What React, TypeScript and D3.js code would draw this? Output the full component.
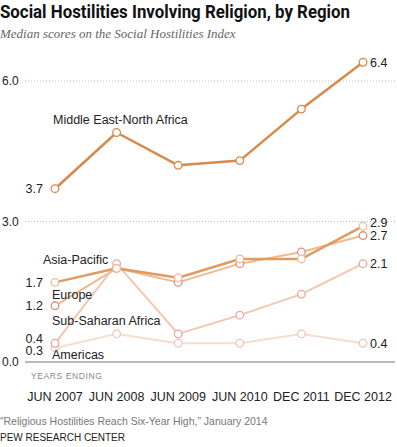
import { useEffect, useRef } from "react";
import * as d3 from "d3";

const periods = ["JUN 2007", "JUN 2008", "JUN 2009", "JUN 2010", "DEC 2011", "DEC 2012"];

// median SHI scores per region
const menaScores = [3.7, 4.9, 4.2, 4.3, 5.4, 6.4];
const asiaScores = [1.7, 2.0, 1.8, 2.2, 2.2, 2.9];
const europeScores = [1.2, 2.0, 1.7, 2.1, 2.35, 2.7];
const ssaScores = [0.4, 2.1, 0.6, 1.0, 1.45, 2.1];
const americasScores = [0.3, 0.6, 0.4, 0.4, 0.6, 0.4];

const yTicks = [0, 3, 6];

const series = [
  { name: "Americas", values: americasScores, color: "#f6ddd2", dot: "#efc6bc", width: 2, label: [52, 354], first: "0.3", last: "0.4", firstDy: 3, lastDy: 0 },
  { name: "Sub-Saharan Africa", values: ssaScores, color: "#f3c7ae", dot: "#e9aaa0", width: 2, label: [52, 320], first: "0.4", last: "2.1", firstDy: -5, lastDy: 0 },
  { name: "Europe", values: europeScores, color: "#ecbb92", dot: "#d99080", width: 2, label: [52, 294], first: "1.2", last: "2.7", firstDy: 0, lastDy: 0 },
  { name: "Asia-Pacific", values: asiaScores, color: "#e19a60", dot: "#edbd9a", width: 2.5, label: [43, 259], first: "1.7", last: "2.9", firstDy: 0, lastDy: -4 },
  { name: "Middle East-North Africa", values: menaScores, color: "#d8894c", dot: "#d8894c", width: 2.5, label: [53, 119], first: "3.7", last: "6.4", firstDy: 0, lastDy: 0 },
];

const SANS = "'Liberation Sans', Arial, sans-serif";

export default function App() {
  const svgRef = useRef<SVGSVGElement>(null);

  useEffect(() => {
    if (!svgRef.current) return;
    const W = 397;
    const H = 447;
    const svg = d3.select(svgRef.current);
    svg.selectAll("*").remove();
    svg.attr("viewBox", `0 0 ${W} ${H}`);

    const x = d3.scalePoint<string>().domain(periods).range([55, 363]);
    const y = d3.scaleLinear().domain([0, 6]).range([362, 81]);

    // ── Title block ───────────────────────────────────────────────
    svg.append("text")
      .attr("x", 0).attr("y", 18)
      .attr("font-family", "Roboto, " + SANS)
      .attr("font-weight", 700)
      .attr("font-size", 18)
      .attr("textLength", 350)
      .attr("lengthAdjust", "spacingAndGlyphs")
      .attr("fill", "#111")
      .text("Social Hostilities Involving Religion, by Region");

    svg.append("text")
      .attr("x", 0).attr("y", 38)
      .attr("font-family", "'Liberation Serif', 'DejaVu Serif', serif")
      .attr("font-style", "italic")
      .attr("font-size", 13)
      .attr("fill", "#666")
      .text("Median scores on the Social Hostilities Index");

    // ── Grid ───────────────────────────────────────────────────────
    yTicks.forEach((t) => {
      svg.append("line")
        .attr("x1", 25).attr("x2", 395)
        .attr("y1", y(t)).attr("y2", y(t))
        .attr("stroke", t === 0 ? "#777" : "#aaa")
        .attr("stroke-width", t === 0 ? 1.2 : 0.8)
        .attr("stroke-dasharray", t === 0 ? null : "1 2");
      svg.append("text")
        .attr("x", 2).attr("y", y(t) + 4)
        .attr("font-family", SANS).attr("font-size", 12)
        .attr("fill", "#222")
        .text(d3.format(".1f")(t));
    });

    // ── Lines + dots ───────────────────────────────────────────────
    const line = d3.line<number>()
      .x((_, i) => x(periods[i])!)
      .y((d) => y(d));

    series.forEach((s) => {
      svg.append("path")
        .datum(s.values)
        .attr("fill", "none")
        .attr("stroke", s.color)
        .attr("stroke-width", s.width)
        .attr("stroke-linejoin", "round")
        .attr("d", line);
    });

    series.forEach((s) => {
      s.values.forEach((v, i) => {
        svg.append("circle")
          .attr("cx", x(periods[i])!)
          .attr("cy", y(v))
          .attr("r", 3.8)
          .attr("fill", "#fff")
          .attr("stroke", s.dot)
          .attr("stroke-width", 1.3);
      });
    });

    // ── Series & value labels ──────────────────────────────────────
    series.forEach((s) => {
      svg.append("text")
        .attr("x", s.label[0]).attr("y", s.label[1] + 4.5)
        .attr("font-family", SANS).attr("font-size", 12.5)
        .attr("fill", "#222")
        .text(s.name);

      svg.append("text")
        .attr("x", 43).attr("y", y(s.values[0]) + 4.5 + s.firstDy)
        .attr("text-anchor", "end")
        .attr("font-family", SANS).attr("font-size", 12.5)
        .attr("fill", "#222")
        .text(s.first);

      svg.append("text")
        .attr("x", 370).attr("y", y(s.values[5]) + 4.5 + s.lastDy)
        .attr("font-family", SANS).attr("font-size", 12.5)
        .attr("fill", "#222")
        .text(s.last);
    });

    // ── X axis ─────────────────────────────────────────────────────
    svg.append("text")
      .attr("x", 31).attr("y", 379)
      .attr("font-family", SANS).attr("font-size", 8.5)
      .attr("letter-spacing", 0.6)
      .attr("fill", "#888")
      .text("YEARS ENDING");

    periods.forEach((p) => {
      svg.append("text")
        .attr("x", x(p)!).attr("y", 401)
        .attr("text-anchor", "middle")
        .attr("font-family", SANS).attr("font-size", 12.5)
        .attr("fill", "#222")
        .text(p);
    });

    // ── Footer ─────────────────────────────────────────────────────
    svg.append("text")
      .attr("x", 0).attr("y", 425)
      .attr("font-family", SANS).attr("font-size", 10.5)
      .attr("fill", "#777")
      .text("\u201cReligious Hostilities Reach Six-Year High,\u201d  January 2014");

    svg.append("text")
      .attr("x", 0).attr("y", 441)
      .attr("font-family", SANS).attr("font-size", 10)
      .attr("font-weight", 500)
      .attr("fill", "#222")
      .text("PEW RESEARCH CENTER");
  }, []);

  return (
    <svg
      ref={svgRef}
      width={397}
      height={447}
      style={{ position: "absolute", left: 0, top: 0, background: "#fff" }}
      role="img"
      aria-label="Social hostilities involving religion, by region"
    />
  );
}
